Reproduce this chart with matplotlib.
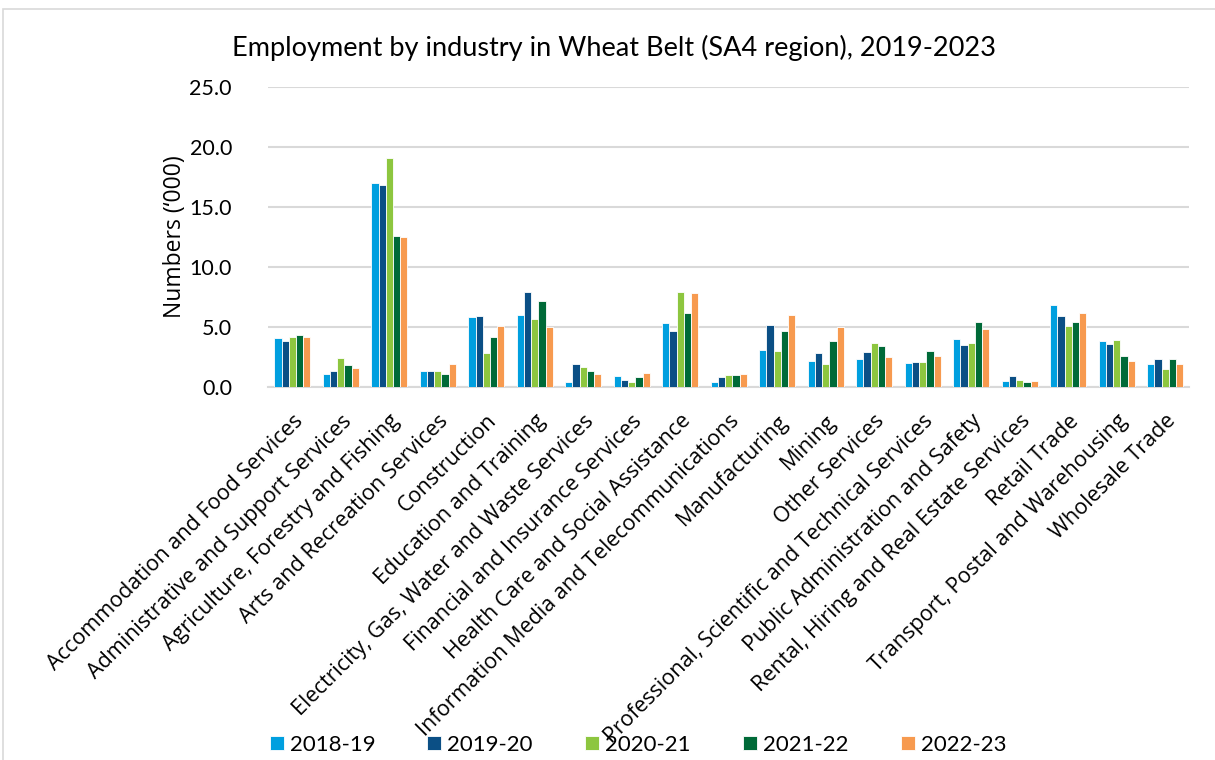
import numpy as np
import matplotlib.pyplot as plt
from matplotlib.patches import Rectangle

industries = [
    'Accommodation and Food Services', 'Administrative and Support Services',
    'Agriculture, Forestry and Fishing', 'Arts and Recreation Services',
    'Construction', 'Education and Training',
    'Electricity, Gas, Water and Waste Services', 'Financial and Insurance Services',
    'Health Care and Social Assistance', 'Information Media and Telecommunications',
    'Manufacturing', 'Mining', 'Other Services',
    'Professional, Scientific and Technical Services',
    'Public Administration and Safety', 'Rental, Hiring and Real Estate Services',
    'Retail Trade', 'Transport, Postal and Warehousing', 'Wholesale Trade',
]
years = ['2018-19', '2019-20', '2020-21', '2021-22', '2022-23']

y2018_19 = [4.1, 1.1, 17.0, 1.3, 5.8, 6.0, 0.4, 0.9, 5.3, 0.4, 3.1, 2.2, 2.3, 2.0, 4.0, 0.5, 6.8, 3.8, 1.9]
y2019_20 = [3.8, 1.3, 16.8, 1.3, 5.9, 7.9, 1.9, 0.6, 4.7, 0.8, 5.2, 2.8, 2.9, 2.1, 3.5, 0.9, 5.9, 3.6, 2.3]
y2020_21 = [4.2, 2.4, 19.1, 1.3, 2.8, 5.7, 1.7, 0.4, 7.9, 1.0, 3.0, 1.9, 3.7, 2.1, 3.7, 0.6, 5.1, 3.9, 1.5]
y2021_22 = [4.3, 1.8, 12.6, 1.1, 4.2, 7.2, 1.3, 0.8, 6.2, 1.0, 4.7, 3.8, 3.4, 3.0, 5.4, 0.4, 5.4, 2.6, 2.3]
y2022_23 = [4.2, 1.6, 12.5, 1.9, 5.1, 5.0, 1.1, 1.2, 7.8, 1.1, 6.0, 5.0, 2.5, 2.6, 4.8, 0.5, 6.2, 2.2, 1.9]
series = [y2018_19, y2019_20, y2020_21, y2021_22, y2022_23]
colors = ['#009FDF', '#0B4F85', '#8DC63F', '#006A38', '#F79A4F']

plt.rcParams['font.family'] = ['Lato', 'DejaVu Sans']
wide = ['Open Sans', 'DejaVu Sans']

fig = plt.figure(figsize=(12.15, 7.6), dpi=100)
ax = fig.add_axes([0.2206, 0.4908, 0.7584, 0.3947])

# light frame round the chart, like the original chart area border
fig.patches.append(Rectangle((3 / 1215, -0.01), 1.02, 1 - 9 / 760 + 0.01,
                             transform=fig.transFigure, fill=False,
                             edgecolor='#d9d9d9', linewidth=1.2))

x = np.arange(len(industries))
w = 0.148
for i, (vals, c, lab) in enumerate(zip(series, colors, years)):
    ax.bar(x + (i - 2) * w, vals, width=w, color=c, edgecolor='white',
           linewidth=0.6, label=lab, zorder=3)

ax.set_xlim(-0.5, len(industries) - 0.5)
ax.set_ylim(0, 25)
ax.set_yticks(np.arange(0, 25.1, 5))
ax.set_yticklabels([f'{v:.1f}' for v in np.arange(0, 25.1, 5)], fontsize=15.5)
ax.yaxis.grid(True, color='#d9d9d9', linewidth=1.5, zorder=0)
ax.set_axisbelow(True)
for s in ['left', 'right', 'top']:
    ax.spines[s].set_visible(False)
ax.spines['bottom'].set_color('#d9d9d9')
ax.spines['bottom'].set_linewidth(1.5)
ax.tick_params(axis='both', length=0)
ax.tick_params(axis='y', pad=26)

ax.set_xticks(x)
ax.set_xticklabels(industries, rotation=45, ha='right', rotation_mode='anchor',
                   fontsize=15.5, family=wide)
ax.tick_params(axis='x', pad=17)

ax.set_ylabel("Numbers (\u2018000)", fontsize=16.5, family=wide, labelpad=2)
fig.text(0.505, 0.937, 'Employment by industry in Wheat Belt (SA4 region), 2019-2023',
         ha='center', va='center', fontsize=19.5)

fig.legend(loc='center', bbox_to_anchor=(0.525, 0.02), ncol=5, frameon=False,
           fontsize=16, handlelength=0.63, handleheight=0.56, columnspacing=2.35,
           handletextpad=0.27)

fig.savefig('out.png', dpi=100)
